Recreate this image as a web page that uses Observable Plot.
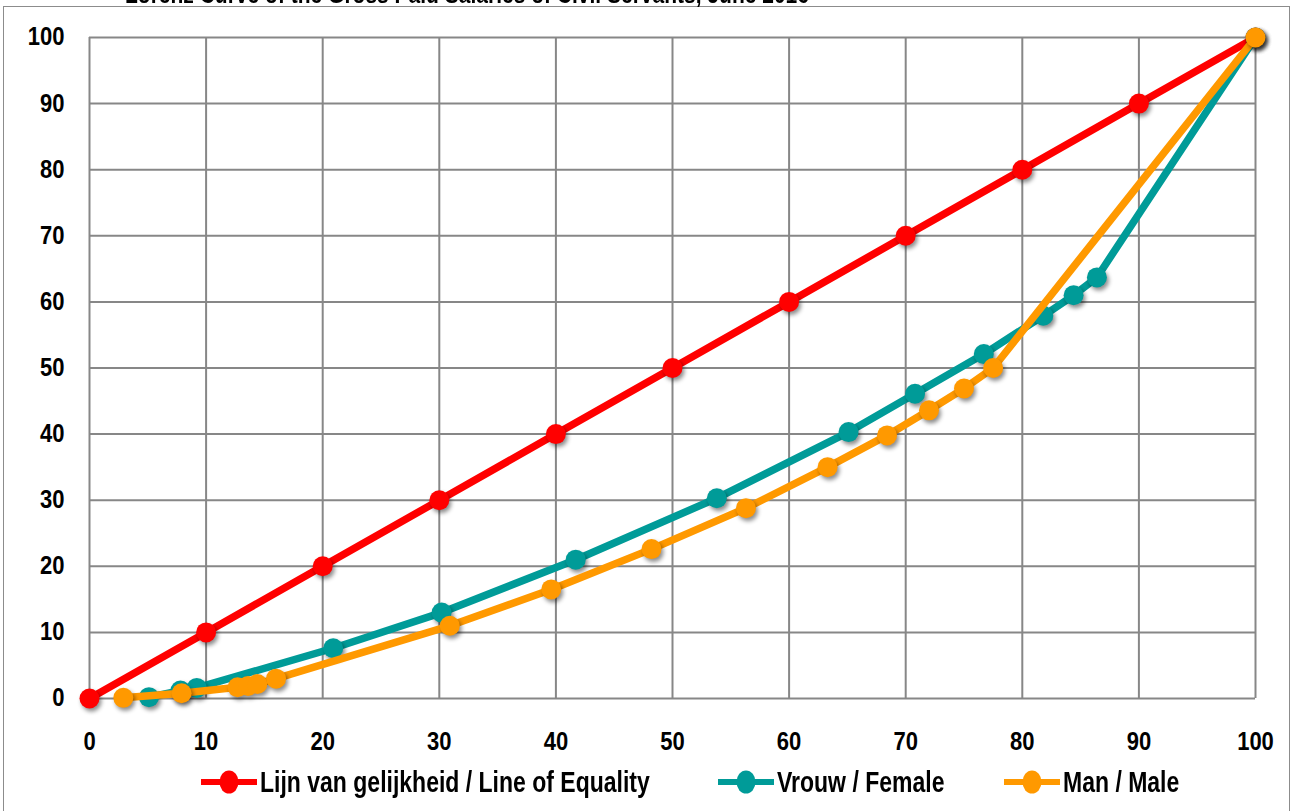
<!DOCTYPE html>
<html><head><meta charset="utf-8">
<script src="https://cdn.jsdelivr.net/npm/d3@7"></script>
<script src="https://cdn.jsdelivr.net/npm/@observablehq/plot@0.6"></script>
<style>
body{margin:0;background:#fff;font-family:"Liberation Sans",Arial,sans-serif;}
#wrap{position:relative;width:1294px;height:811px;overflow:hidden;background:#fff;}
#frame{position:absolute;left:3px;top:6px;width:1287px;height:840px;border:1px solid #8c8c8c;box-sizing:border-box;}
#title{position:absolute;top:-17px;left:0;width:934px;text-align:center;font-weight:bold;font-size:21px;white-space:nowrap;transform:scaleY(1.2);}
#chart{position:absolute;left:0;top:0;}
#legend{position:absolute;top:767px;left:0;width:1294px;height:30px;}
.item{position:absolute;top:0;display:flex;align-items:center;font-weight:bold;font-size:23px;color:#000;white-space:nowrap;}
.item span{display:inline-block;transform:scaleY(1.3);}
.item svg{margin-right:3px;}
</style></head>
<body>
<div id="wrap">
<div id="frame"></div>
<div id="title">Lorenz Curve of the Gross Paid Salaries of Civil Servants, June 2016</div>
<div id="chart"></div>
<div id="legend"></div>
</div>
<script>
const xTicks = [0,10,20,30,40,50,60,70,80,90,100];
const yTicks = [0,10,20,30,40,50,60,70,80,90,100];

const seriesNames = ["Lijn van gelijkheid / Line of Equality", "Vrouw / Female", "Man / Male"];
const seriesColors = ["#ff0000", "#009b98", "#ff9900"];

const equalityX = [0,10,20,30,40,50,60,70,80,90,100];
const equalityY = [0,10,20,30,40,50,60,70,80,90,100];

const femaleX = [5.1, 7.8, 9.2, 20.9, 30.2, 41.7, 53.8, 65.1, 70.8, 76.7, 81.8, 84.4, 86.4, 100];
const femaleY = [0.2, 1.2, 1.6, 7.6, 13.0, 21.0, 30.3, 40.3, 46.1, 52.1, 57.9, 61.0, 63.7, 100];

const maleX = [2.9, 7.9, 12.7, 13.6, 14.4, 16.0, 30.9, 39.6, 48.2, 56.3, 63.3, 68.4, 72.0, 75.0, 77.5, 100];
const maleY = [0.1, 0.8, 1.7, 1.9, 2.2, 3.0, 11.0, 16.5, 22.6, 28.8, 35.0, 39.8, 43.6, 46.9, 50.0, 100];

const toRows = (xs, ys) => xs.map((x, i) => ({x, y: ys[i]}));
const series = [toRows(equalityX, equalityY), toRows(femaleX, femaleY), toRows(maleX, maleY)];

const marks = [
  Plot.gridX(xTicks, {stroke: "#878787", strokeOpacity: 1, strokeWidth: 2}),
  Plot.gridY(yTicks, {stroke: "#878787", strokeOpacity: 1, strokeWidth: 2}),
  Plot.axisX(xTicks, {tickSize: 0, tickPadding: 34, fontWeight: "bold", fontSize: 22, label: null}),
  Plot.axisY(yTicks, {tickSize: 0, tickPadding: 25, fontWeight: "bold", fontSize: 22, label: null})
];
series.forEach((rows, i) => {
  marks.push(Plot.line(rows, {x: "x", y: "y", stroke: seriesColors[i], strokeWidth: 7.5, curve: "linear"}));
  marks.push(Plot.dot(rows, {x: "x", y: "y", r: 10, fill: seriesColors[i], stroke: "none"}));
});

const plot = Plot.plot({
  width: 1294, height: 760,
  marginLeft: 89, marginRight: 39, marginTop: 37, marginBottom: 62,
  x: {domain: [0, 100]},
  y: {domain: [0, 100]},
  style: {fontFamily: "'Liberation Sans', Arial, sans-serif", color: "#000", background: "transparent", overflow: "visible"},
  marks
});
d3.select(plot).selectAll("g[aria-label='dot']").style("filter", "drop-shadow(2px 3px 2px rgba(0,0,0,0.45))");
// stretch tick labels slightly vertically, like the original's narrow tall lettering
d3.select(plot).selectAll("g[aria-label='x-axis tick label'] text, g[aria-label='y-axis tick label'] text")
  .attr("transform", function() { const t = this.getAttribute("transform") || ""; return t + " scale(1,1.13)"; });
document.getElementById("chart").appendChild(plot);

// legend
const legendLefts = [201, 718, 1004];
const legend = d3.select("#legend");
seriesNames.forEach((name, i) => {
  const item = legend.append("div").attr("class", "item").style("left", legendLefts[i] + "px");
  const svg = item.append("svg").attr("width", 56).attr("height", 30);
  svg.append("line").attr("x1", 0).attr("x2", 56).attr("y1", 15).attr("y2", 15)
    .attr("stroke", seriesColors[i]).attr("stroke-width", 6);
  svg.append("ellipse").attr("cx", 28).attr("cy", 15).attr("rx", 9.5).attr("ry", 11.5).attr("fill", seriesColors[i]);
  item.append("span").text(name);
});
</script>
</body></html>
